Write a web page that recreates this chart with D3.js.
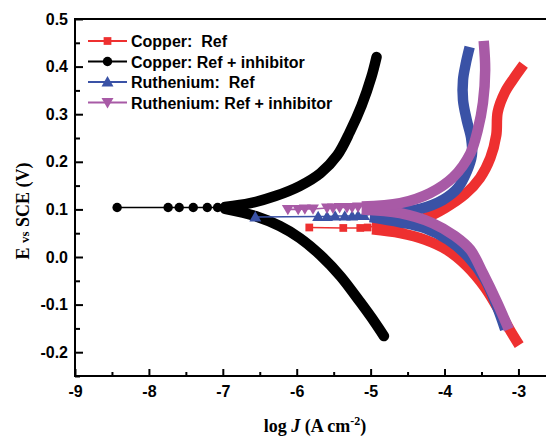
<!DOCTYPE html>
<html>
<head>
<meta charset="utf-8">
<script src="https://cdn.jsdelivr.net/npm/d3@7/dist/d3.min.js"></script>
<style>
  html, body { margin: 0; padding: 0; background: #fff; }
  svg { display: block; }
  text { white-space: pre; }
</style>
</head>
<body>
<svg id="chart" width="546" height="437"></svg>
<script>
// Tafel polarisation curves: [log J (A cm^-2), E vs SCE (V)]
// Sparse points near the corrosion potential are drawn with symbols,
// the dense anodic / cathodic branches as thick bands.

const seriesNames = ["Copper:\u00A0 Ref", "Copper: Ref + inhibitor", "Ruthenium:\u00A0 Ref", "Ruthenium: Ref + inhibitor"];
const seriesColors = ["#ee3030", "#000000", "#3a52a6", "#a85aa6"];
const seriesSymbols = ["square", "circle", "triangleUp", "triangleDown"];

const copperRefMarkers = [[-5.83, 0.062], [-5.37, 0.061], [-5.14, 0.061], [-5.04, 0.062]];
const copperRefAnodic = [[-4.98, 0.064], [-4.60, 0.069], [-4.26, 0.082], [-3.99, 0.103], [-3.72, 0.132], [-3.52, 0.166], [-3.38, 0.208], [-3.30, 0.256], [-3.28, 0.305], [-3.18, 0.347], [-3.05, 0.378], [-2.93, 0.404]];
const copperRefCathodic = [[-4.98, 0.058], [-4.60, 0.050], [-4.26, 0.036], [-3.97, 0.015], [-3.70, -0.019], [-3.45, -0.065], [-3.25, -0.116], [-3.09, -0.160], [-2.99, -0.185]];

const copperInhMarkers = [[-8.43, 0.104], [-7.74, 0.104], [-7.59, 0.104], [-7.40, 0.104], [-7.21, 0.104], [-7.07, 0.104]];
const copperInhAnodic = [[-6.97, 0.105], [-6.63, 0.113], [-6.29, 0.128], [-5.96, 0.149], [-5.68, 0.176], [-5.45, 0.214], [-5.28, 0.263], [-5.12, 0.319], [-4.99, 0.378], [-4.92, 0.420]];
const copperInhCathodic = [[-6.97, 0.101], [-6.56, 0.086], [-6.23, 0.065], [-5.96, 0.040], [-5.68, 0.004], [-5.41, -0.040], [-5.14, -0.095], [-4.94, -0.138], [-4.82, -0.166]];

const rutheniumRefMarkers = [[-6.56, 0.084], [-5.71, 0.085], [-5.59, 0.085], [-5.48, 0.086], [-5.35, 0.086], [-5.25, 0.086], [-5.17, 0.087], [-5.09, 0.087]];
const rutheniumRefAnodic = [[-5.01, 0.090], [-4.60, 0.095], [-4.33, 0.101], [-4.02, 0.120], [-3.82, 0.145], [-3.70, 0.179], [-3.63, 0.214], [-3.64, 0.250], [-3.70, 0.288], [-3.75, 0.330], [-3.75, 0.372], [-3.71, 0.408], [-3.66, 0.441]];
const rutheniumRefCathodic = [[-5.01, 0.084], [-4.60, 0.073], [-4.26, 0.060], [-3.95, 0.036], [-3.68, 0.000], [-3.45, -0.048], [-3.30, -0.100], [-3.18, -0.152]];

const rutheniumInhMarkers = [[-6.12, 0.100], [-5.98, 0.100], [-5.89, 0.101], [-5.78, 0.101], [-5.59, 0.103], [-5.51, 0.103], [-5.42, 0.104], [-5.32, 0.104], [-5.25, 0.104], [-5.17, 0.105]];
const rutheniumInhAnodic = [[-5.12, 0.106], [-4.60, 0.113], [-4.20, 0.134], [-3.88, 0.168], [-3.65, 0.218], [-3.55, 0.267], [-3.48, 0.324], [-3.45, 0.393], [-3.47, 0.454]];
const rutheniumInhCathodic = [[-5.12, 0.100], [-4.60, 0.092], [-4.16, 0.071], [-3.86, 0.044], [-3.65, 0.015], [-3.48, -0.034], [-3.29, -0.095], [-3.13, -0.152]];

const xTicks = [-9, -8, -7, -6, -5, -4, -3];
const xMinorTicks = [-8.5, -7.5, -6.5, -5.5, -4.5, -3.5, -2.5];
const yTicks = [-0.2, -0.1, 0.0, 0.1, 0.2, 0.3, 0.4, 0.5];
const yMinorTicks = [-0.25, -0.15, -0.05, 0.05, 0.15, 0.25, 0.35, 0.45];

const series = [
  { markers: copperRefMarkers, anodic: copperRefAnodic, cathodic: copperRefCathodic },
  { markers: copperInhMarkers, anodic: copperInhAnodic, cathodic: copperInhCathodic },
  { markers: rutheniumRefMarkers, anodic: rutheniumRefAnodic, cathodic: rutheniumRefCathodic },
  { markers: rutheniumInhMarkers, anodic: rutheniumInhAnodic, cathodic: rutheniumInhCathodic }
];

const svg = d3.select("#chart");
const plot = { left: 75, right: 548, top: 19, bottom: 376 };

const x = d3.scaleLinear().domain([-9, -2.6]).range([plot.left, plot.right]);
const y = d3.scaleLinear().domain([-0.25, 0.5]).range([plot.bottom, plot.top]);

const sansBold = "'Liberation Sans', Arial, Helvetica, sans-serif";
const serif = "'Liberation Serif', 'Times New Roman', serif";

const symbolTypes = {
  square: d3.symbolSquare,
  circle: d3.symbolCircle,
  triangleUp: d3.symbolTriangle,
  triangleDown: d3.symbolTriangle
};
const symbolSizes = { square: 60, circle: 70, triangleUp: 62, triangleDown: 62 };

function drawSymbol(g, kind, cx, cy, color) {
  const path = d3.symbol().type(symbolTypes[kind]).size(symbolSizes[kind])();
  const rot = kind === "triangleDown" ? " rotate(180)" : "";
  const dy = kind === "triangleUp" ? 1 : (kind === "triangleDown" ? -1 : 0);
  g.append("path")
    .attr("d", path)
    .attr("transform", `translate(${cx},${cy + dy})${rot}`)
    .attr("fill", color);
}

const line = d3.line().x(d => x(d[0])).y(d => y(d[1])).curve(d3.curveCatmullRom.alpha(0.5));
const straight = d3.line().x(d => x(d[0])).y(d => y(d[1]));

const dataLayer = svg.append("g");

series.forEach((s, i) => {
  const color = seriesColors[i];
  const g = dataLayer.append("g");
  const cap = i === 1 ? "round" : "butt";
  // thin connector through the sparse points into the branches
  g.append("path")
    .attr("d", straight(s.markers.concat([s.anodic[0]])))
    .attr("fill", "none").attr("stroke", color).attr("stroke-width", 1.6);
  // dense branches
  [s.cathodic, s.anodic].forEach(branch => {
    g.append("path")
      .attr("d", line(branch))
      .attr("fill", "none")
      .attr("stroke", color)
      .attr("stroke-width", 10.5)
      .attr("stroke-linecap", cap)
      .attr("stroke-linejoin", "round");
  });
  s.markers.forEach(p => drawSymbol(g, seriesSymbols[i], x(p[0]), y(p[1]), color));
});

// Axes (hyphen-minus labels)
const axisG = svg.append("g");
const fmtX = d => String(d);
const fmtY = d => d.toFixed(1);

const xAxis = d3.axisBottom(x).tickValues(xTicks).tickSize(-7).tickPadding(10).tickFormat(fmtX);
const xMinor = d3.axisBottom(x).tickValues(xMinorTicks).tickSize(-4).tickFormat("");
const yAxis = d3.axisLeft(y).tickValues(yTicks).tickSize(-8).tickPadding(7).tickFormat(fmtY);
const yMinor = d3.axisLeft(y).tickValues(yMinorTicks).tickSize(-5).tickFormat("");

function styleAxis(g) {
  g.select(".domain").remove();
  g.selectAll(".tick line").attr("stroke", "#000").attr("stroke-width", 2);
  g.selectAll(".tick text")
    .attr("fill", "#000")
    .style("font-family", sansBold)
    .style("font-weight", "bold")
    .style("font-size", "16px");
}

axisG.append("g").attr("transform", `translate(0,${plot.bottom})`).call(xAxis).call(styleAxis);
axisG.append("g").attr("transform", `translate(0,${plot.bottom})`).call(xMinor).call(styleAxis);
axisG.append("g").attr("transform", `translate(${plot.left},0)`).call(yAxis).call(styleAxis);
axisG.append("g").attr("transform", `translate(${plot.left},0)`).call(yMinor).call(styleAxis);

// frame
axisG.append("rect")
  .attr("x", plot.left).attr("y", plot.top)
  .attr("width", plot.right - plot.left).attr("height", plot.bottom - plot.top)
  .attr("fill", "none").attr("stroke", "#000").attr("stroke-width", 2);

// Axis titles
svg.append("text")
  .attr("transform", `translate(29,211) rotate(-90)`)
  .attr("text-anchor", "middle")
  .style("font-family", serif)
  .style("font-weight", "bold")
  .style("font-size", "18px")
  .call(t => {
    t.append("tspan").text("E ");
    t.append("tspan").style("font-size", "13px").text("vs");
    t.append("tspan").text(" SCE (V)");
  });

svg.append("text")
  .attr("x", 315).attr("y", 432)
  .attr("text-anchor", "middle")
  .style("font-family", serif)
  .style("font-weight", "bold")
  .style("font-size", "18px")
  .call(t => {
    t.append("tspan").text("log ");
    t.append("tspan").style("font-style", "italic").text("J");
    t.append("tspan").text(" (A cm");
    t.append("tspan").attr("dy", -7).style("font-size", "12px").text("-2");
    t.append("tspan").attr("dy", 7).text(")");
  });

// Legend
const legend = svg.append("g");
const legendY = [41, 61.5, 82, 102.5];
seriesNames.forEach((name, i) => {
  const ly = legendY[i];
  legend.append("line")
    .attr("x1", 88).attr("x2", 127).attr("y1", ly).attr("y2", ly)
    .attr("stroke", seriesColors[i]).attr("stroke-width", 1.8);
  drawSymbol(legend, seriesSymbols[i], 107.5, ly, seriesColors[i]);
  legend.append("text")
    .attr("x", 131).attr("y", ly + 6)
    .style("font-family", sansBold)
    .style("font-weight", "bold")
    .style("font-size", "16px")
    .attr("fill", "#000")
    .text(name);
});
</script>
</body>
</html>
